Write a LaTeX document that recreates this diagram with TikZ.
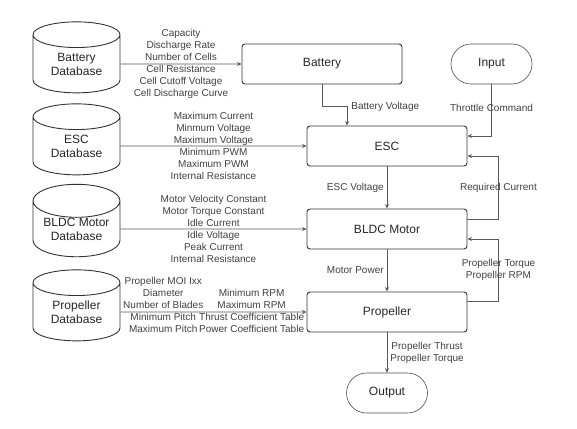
\documentclass[tikz,border=0pt]{standalone}
\usepackage{fontspec}
\setmainfont{Liberation Sans}
\usetikzlibrary{shapes.geometric,arrows.meta}

\tikzset{
    db/.style={cylinder, shape border rotate=90, aspect=0.5, draw=black!80, line width=0.9pt,
        minimum width=87pt, minimum height=71pt, inner sep=0pt, align=center,
        font=\fontsize{12}{14}\selectfont, text=black!85},
    block/.style={draw=black!80, line width=0.9pt, rounded corners=3pt, minimum width=160pt,
        minimum height=40pt, font=\fontsize{12}{14}\selectfont, text=black!85},
    term/.style={draw=black!70, line width=0.6pt, rounded corners=20pt, minimum width=81pt,
        minimum height=40pt, font=\fontsize{12}{14}\selectfont, text=black!85},
    conn/.style={draw=black!65, line width=0.7pt, -{Stealth[length=4.5pt,width=4pt]}},
    lbl/.style={font=\fontsize{10}{12}\selectfont, text=black!75, align=center, inner sep=2pt}
}

\begin{document}
\begin{tikzpicture}[x=1pt, y=-1pt]
        \useasboundingbox (0,0) rectangle (577,428);

        % Databases
        \node[db] (batdb) at (76.5,64) {Battery\\Database};
        \node[db] (escdb) at (76.5,146) {ESC\\Database};
        \node[db] (motdb) at (76.5,229) {BLDC Motor\\Database};
        \node[db] (propdb) at (76.5,312) {Propeller\\Database};

        % Main chain
        \node[block] (battery) at (322,64) {Battery};
        \node[block] (esc) at (387,146) {ESC};
        \node[block] (motor) at (387,229) {BLDC Motor};
        \node[block] (prop) at (387,312) {Propeller};

        % Input and output
        \node[term] (input) at (491.5,64) {Input};
        \node[term] (output) at (387,393) {Output};

        % Database parameters
        \draw[conn] (batdb) -- node[lbl] {Capacity\\Discharge Rate\\Number of Cells\\Cell Resistance\\Cell Cutoff Voltage\\Cell Discharge Curve} (battery);
        \draw[conn] (escdb) -- node[lbl] {Maximum Current\\Minmum Voltage\\Maximum Voltage\\Minimum PWM\\Maximum PWM\\Internal Resistance} (esc);
        \draw[conn] (motdb) -- node[lbl] {Motor Velocity Constant\\Motor Torque Constant\\Idle Current\\Idle Voltage\\Peak Current\\Internal Resistance} (motor);
        \draw[conn] (propdb) -- node[lbl, pos=0.23, yshift=7.5pt] {Propeller MOI Ixx\\Diameter\\Number of Blades\\Minimum Pitch\\Maximum Pitch}
            node[lbl, pos=0.705, yshift=1pt] {Minimum RPM\\Maximum RPM\\Thrust Coefficient Table\\Power Coefficient Table} (prop);

        % Signal flow
        \draw[conn] (battery.south) -- ++(0,22) -| node[lbl, pos=0.5, right=2pt] {Battery Voltage} ([xshift=-40pt]esc.north);
        \draw[conn] (input.south) |- node[lbl, pos=0.23] {Throttle Command} ([yshift=10pt]esc.east);
        \draw[conn] (esc) -- node[lbl, midway, left=1pt] {ESC Voltage} (motor);
        \draw[conn] (motor) -- node[lbl, midway, left=1pt] {Motor Power} (prop);
        \draw[conn] (prop) -- node[lbl, midway, right=1pt] {Propeller Thrust\\Propeller Torque} (output);

        % Feedback
        \draw[conn] ([yshift=10pt]motor.east) -- ++(31,0) |- node[lbl, pos=0.25] {Required Current} ([yshift=-10pt]esc.east);
        \draw[conn] ([yshift=11pt]prop.east) -- ++(31,0) |- node[lbl, pos=0.25] {Propeller Torque\\Propeller RPM} ([yshift=-10pt]motor.east);
    \end{tikzpicture}
\end{document}
